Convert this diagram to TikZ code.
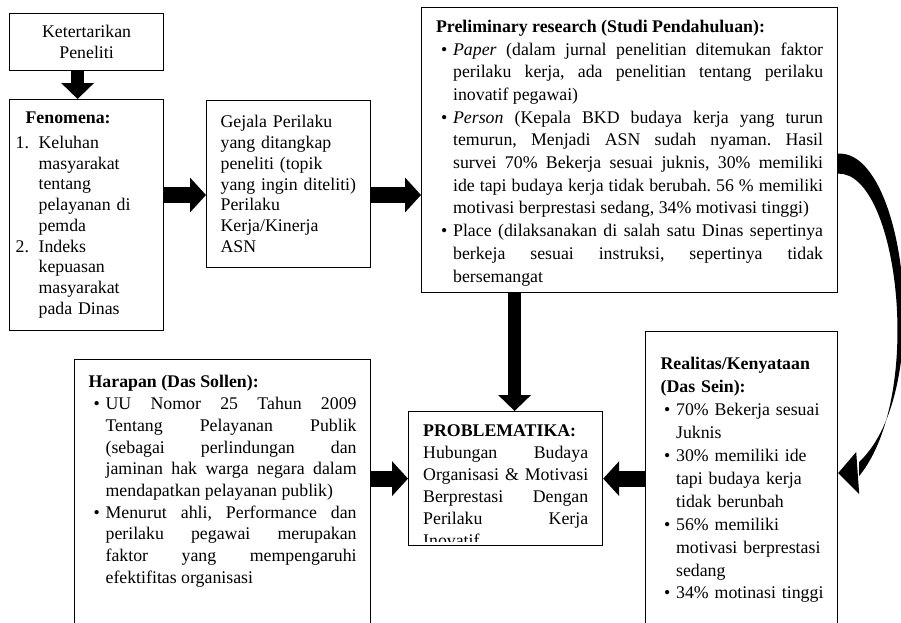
\documentclass[tikz,border=0pt]{standalone}
\usepackage{fontspec}
\setmainfont{Liberation Serif}
\usetikzlibrary{positioning,arrows.meta}
\frenchspacing
\tikzset{
  box/.style={draw, line width=1.2pt, rectangle, anchor=north west, inner xsep=14pt, font=\fontsize{17.8}{22}\selectfont},
  fat/.style={line width=16pt, -{Triangle[length=16pt,width=34pt]}},
  fatv/.style={line width=13pt, -{Triangle[length=16pt,width=32pt]}}
}
\newcommand{\butir}{\par\leftskip=17pt\noindent\llap{\makebox[12pt][l]{\textbullet}}}
\newcommand{\nomor}[1]{\par\leftskip=23pt\noindent\llap{\makebox[23pt][l]{#1}}}

\begin{document}
\begin{tikzpicture}[x=1pt,y=-1pt]
    \useasboundingbox (0,0) rectangle (901,622);

    \node[box, minimum width=154pt, minimum height=57pt, text width=140pt, align=center, inner xsep=7pt, font=\fontsize{17.8}{21}\selectfont] (ket) at (9,13) {Ketertarikan\\Peneliti};

    \node[box, minimum width=154pt, minimum height=231pt, text width=142pt, align=left, inner xsep=6pt, font=\fontsize{17.8}{20.7}\selectfont] (fen) at (9,99)
      {\hspace*{10pt}\textbf{Fenomena:}\par\vspace{4pt}%
       \nomor{1.}Keluhan\\masyarakat\\tentang\\pelayanan di\\pemda%
       \nomor{2.}Indeks\\kepuasan\\masyarakat\\pada Dinas\par};

    \node[box, minimum width=164pt, minimum height=167pt, text width=136pt, align=left, font=\fontsize{17.8}{20.8}\selectfont] (gej) at (206,100)
      {Gejala Perilaku\\yang ditangkap\\peneliti (topik\\yang ingin diteliti)\\Perilaku\\Kerja/Kinerja\\ASN};

    \node[box, minimum width=416pt, minimum height=285pt, text width=387pt, align=justify, inner ysep=2pt, font=\fontsize{17.8}{22.7}\selectfont] (pre) at (421,7)
      {\rule{0pt}{18pt}\textbf{Preliminary research (Studi Pendahuluan):}%
       \butir\textit{Paper} (dalam jurnal penelitian ditemukan faktor\linebreak
       perilaku kerja, ada penelitian tentang perilaku\linebreak
       inovatif pegawai)%
       \butir\textit{Person} (Kepala BKD budaya kerja yang turun\linebreak
       temurun, Menjadi ASN sudah nyaman. Hasil\linebreak
       survei 70\% Bekerja sesuai juknis, 30\% memiliki\linebreak
       ide tapi budaya kerja tidak berubah. 56 \% memiliki\linebreak
       motivasi berprestasi sedang, 34\% motivasi tinggi)%
       \butir Place (dilaksanakan di salah satu Dinas sepertinya\linebreak
       berkeja sesuai instruksi, sepertinya tidak\linebreak
       bersemangat\par};

    \node[box, text width=268pt, align=justify, inner ysep=16pt, text depth=260pt, font=\fontsize{17.8}{21.7}\selectfont] (har) at (74,359)
      {\textbf{Harapan (Das Sollen):}%
       \butir UU Nomor 25 Tahun 2009\linebreak
       Tentang Pelayanan Publik\linebreak
       (sebagai perlindungan dan\linebreak
       jaminan hak warga negara dalam\linebreak
       mendapatkan pelayanan publik)%
       \butir Menurut ahli, Performance dan\linebreak
       perilaku pegawai merupakan\linebreak
       faktor yang mempengaruhi\linebreak
       efektifitas organisasi\par};

    \node[box, minimum width=194pt, minimum height=134pt] (prob) at (408,411) {};
    \begin{scope}
      \clip (prob.north west) rectangle ([yshift=5pt]prob.south east);
      \node[anchor=north west, text width=165pt, align=justify, inner sep=0pt, font=\fontsize{17.8}{22}\selectfont] (probtext)
        at ([shift={(15pt,-14pt)}]prob.north west)
        {\textbf{PROBLEMATIKA:}\par
         Hubungan Budaya\linebreak
         Organisasi \& Motivasi\linebreak
         Berprestasi Dengan\linebreak
         Perilaku Kerja\linebreak
         Inovatif};
    \end{scope}

    \node[box, text width=165pt, align=left, inner xsep=13.5pt, inner ysep=26pt, text depth=280pt, font=\fontsize{17.8}{22.9}\selectfont] (real) at (645,331)
      {\hspace*{1.5pt}\textbf{Realitas/Kenyataan}\\\hspace*{1.5pt}\textbf{(Das Sein):}%
       \butir 70\% Bekerja sesuai\\Juknis%
       \butir 30\% memiliki ide\\tapi budaya kerja\\tidak berunbah%
       \butir 56\% memiliki\\motivasi berprestasi\\sedang%
       \butir 34\% motinasi tinggi\par};

    % block arrows
    \coordinate (lvl) at (0,195);
    \coordinate (dn) at ([xshift=9pt]prob.north);
    \draw[fatv] ([xshift=-9pt]ket.south) -- ([xshift=-9pt]fen.north);
    \draw[fat] (fen.east |- lvl) -- (gej.west |- lvl);
    \draw[fat] (gej.east |- lvl) -- (pre.west |- lvl);
    \draw[fatv] (dn |- pre.south) -- (dn);
    \draw[fat] (har.east |- prob.west) -- (prob.west);
    \draw[fat] (real.west |- prob.east) -- (prob.east);

    % curved arrow down the right side
    \coordinate (cs1) at ([yshift=-3.5pt]pre.east);
    \coordinate (cs2) at ([yshift=-23.5pt]pre.east);
    \coordinate (ctip) at ([yshift=-142pt]real.north east);
    \fill (cs1) .. controls (905,150) and (935,390) .. ([shift={(21,-11)}]ctip)
      -- ([shift={(21,3)}]ctip) .. controls (925,395) and (898,172) .. (cs2) -- cycle;
    \fill (ctip) -- +(18,-21) -- +(21,21) -- cycle;
\end{tikzpicture}
\end{document}
